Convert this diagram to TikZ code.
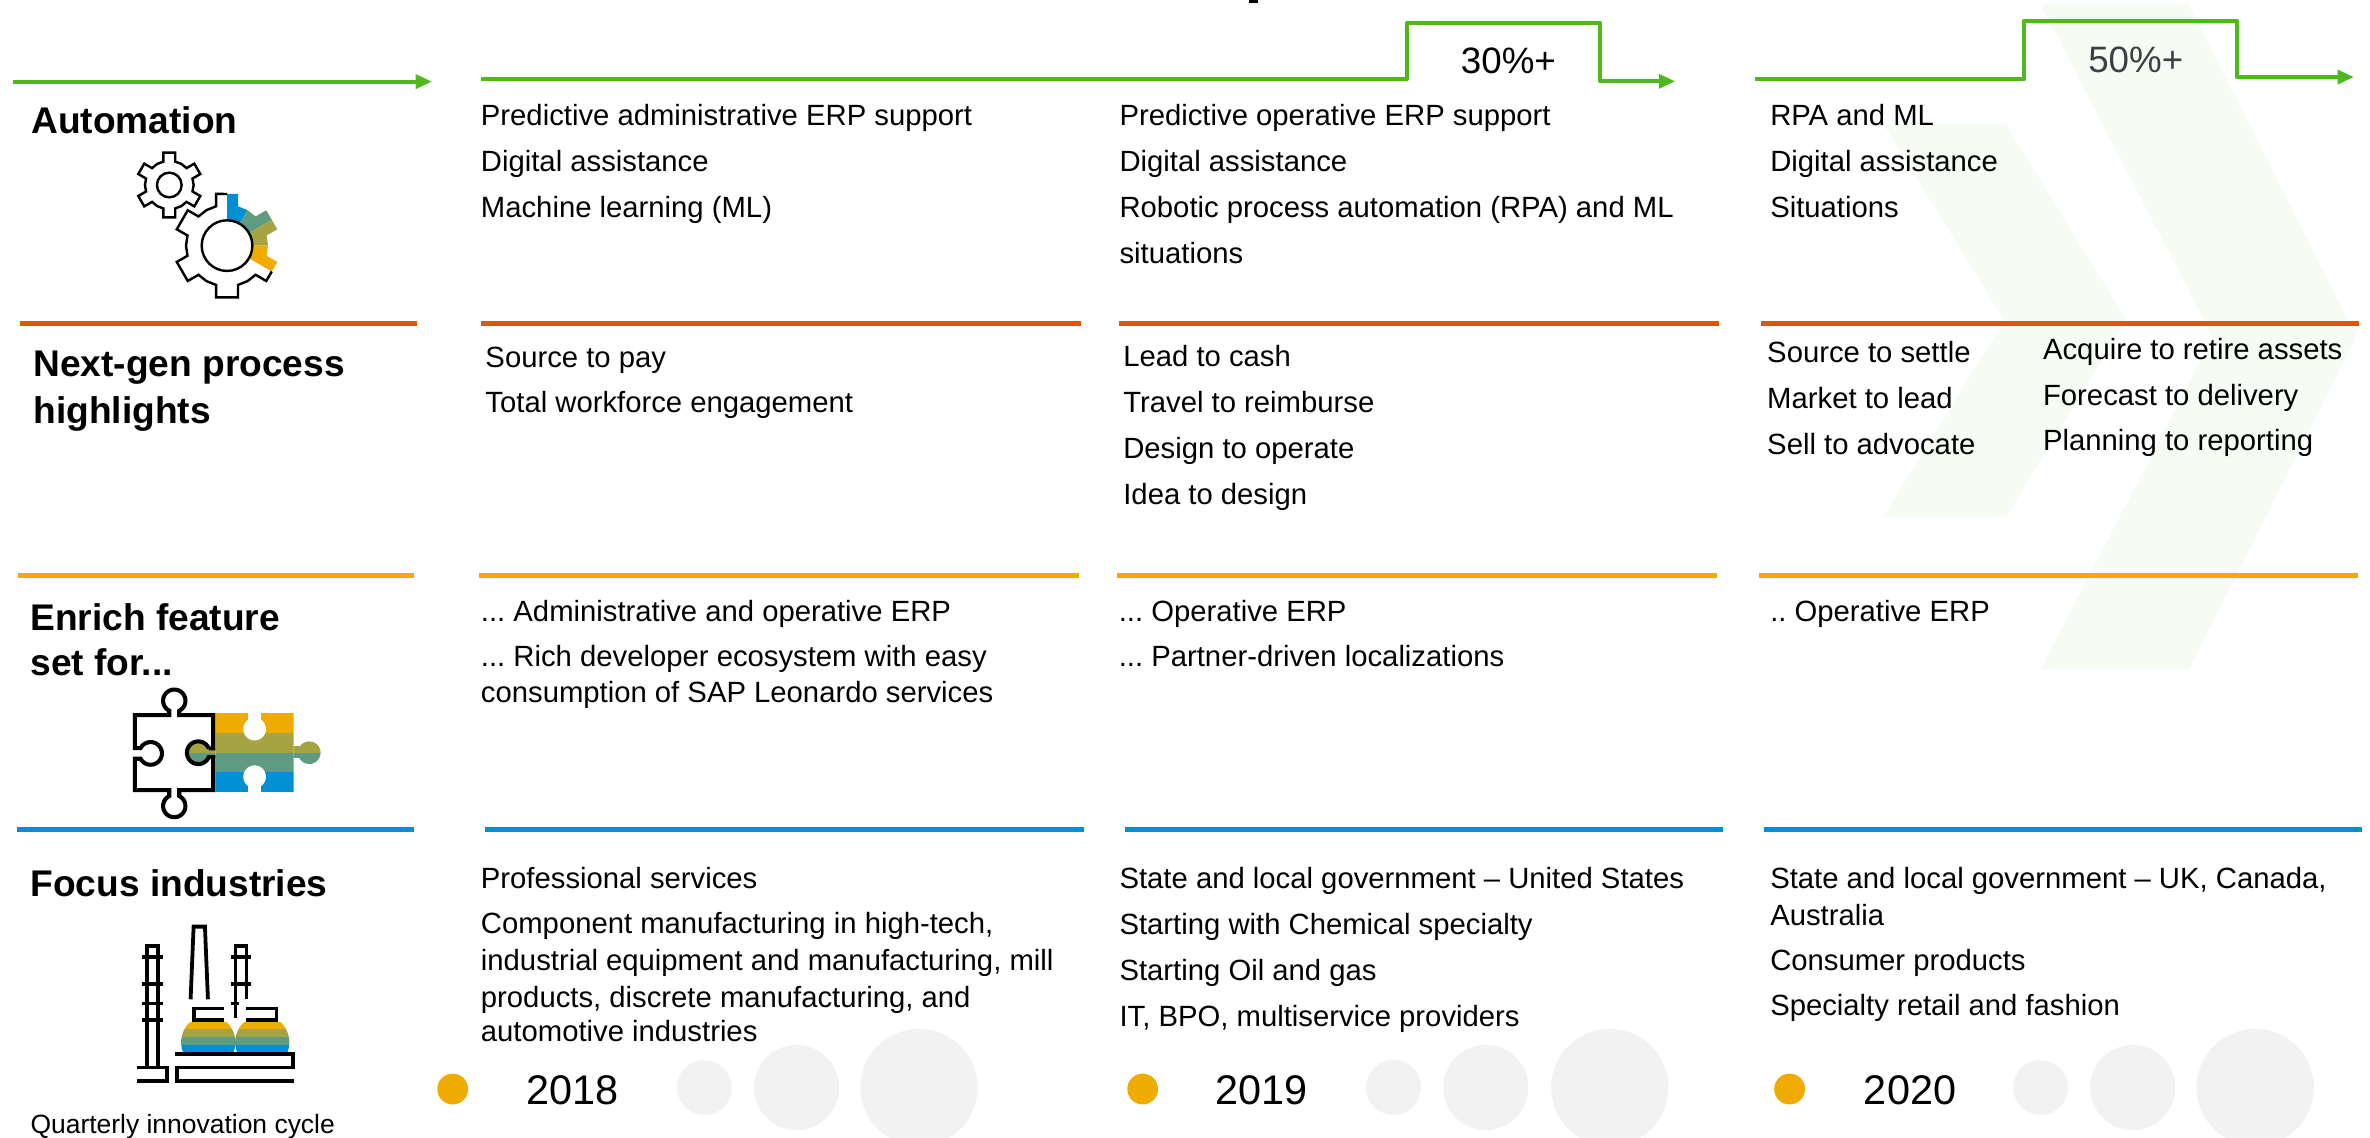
\documentclass[tikz,border=0pt]{standalone}
\usepackage{fontspec}
\setmainfont{Liberation Sans}
\definecolor{gOrange}{HTML}{E35500}
\definecolor{gYellow}{HTML}{F0AB00}
\definecolor{gBlue}{HTML}{008FD3}
\definecolor{gGreen}{HTML}{4FB81C}
\definecolor{gOlive}{HTML}{A6A343}
\definecolor{gTeal}{HTML}{5F9B80}
\definecolor{gGray}{HTML}{F2F2F2}
\definecolor{gChev}{HTML}{F6FBF4}
\definecolor{gDark}{HTML}{3C4043}
\tikzset{
  bodytext/.style={anchor=base west,inner sep=0pt,font=\fontsize{19.36}{23}\selectfont\frenchspacing,align=left},
  headtext/.style={anchor=base west,inner sep=0pt,font=\fontsize{24.55}{30}\selectfont\bfseries},
  pctext/.style={anchor=center,inner sep=0pt,font=\fontsize{24.3}{30}\selectfont},
  yeartext/.style={anchor=base west,inner sep=0pt,font=\fontsize{27.4}{30}\selectfont},
  rule/.style={line width=3.4pt},
  flow/.style={draw=gGreen,line width=2.6pt,line join=round},
  head/.style={fill=gGreen,draw=none},
  iconline/.style={line width=2.5pt,line join=miter},
  gearline/.style={line width=1.6pt,line join=miter},
  chev/.style={fill=gChev,draw=none},
  dot/.style={circle,fill=gGray,draw=none,inner sep=0pt},
  ydot/.style={circle,fill=gYellow,draw=none,inner sep=0pt,minimum size=20.4pt}
}
\newcommand{\puzbands}{%
  \fill[gYellow] (400,150) rectangle (740,220);
  \fill[gOlive] (300,220) rectangle (740,278);
  \fill[gTeal] (300,278) rectangle (740,337);
  \fill[gBlue] (400,337) rectangle (740,400);
}
\newcommand{\tankbands}{%
  \fill[gYellow] (290,365) rectangle (640,388);
  \fill[gOlive] (290,388) rectangle (640,411);
  \fill[gTeal] (290,411) rectangle (640,435);
  \fill[gBlue] (290,435) rectangle (640,458);
}
\begin{document}
\begin{tikzpicture}[x=1pt,y=-1pt]
\useasboundingbox (0,0) rectangle (1568,752.9);
\clip (0,0) rectangle (1568,752.9);
% clipped mark at the top edge
\fill[black] (826.4,0) rectangle (832.4,1.8);
% chevrons
\fill[chev] (1350,3) -- (1448,3) -- (1559,223) -- (1448,443) -- (1350,443) -- (1464,223) -- cycle;
\fill[chev] (1246,82) -- (1327,82) -- (1407,212) -- (1327,342) -- (1246,342) -- (1326,212) -- cycle;
% green flows
\coordinate (a1s) at (8.5,54);
\coordinate (a1e) at (278,54);
\coordinate (a1t) at (285.5,54);
\draw[flow] (a1s) -- (a1e);
\fill[head] (275,49) -- (a1t) -- (275,59) -- cycle;
\coordinate (a2s) at (318,52.5);
\coordinate (a2e) at (1101,53.8);
\coordinate (a2t) at (1108,53.8);
\draw[flow] (a2s) -- (930.6,52.5) -- (930.6,15.4) -- (1058.7,15.4) -- (1058.7,53.8) -- (a2e);
\fill[head] (1097.5,48.8) -- (a2t) -- (1097.5,58.8) -- cycle;
\coordinate (a3s) at (1161,52.5);
\coordinate (a3e) at (1550,51);
\coordinate (a3t) at (1557,51);
\draw[flow] (a3s) -- (1339,52.5) -- (1339,14) -- (1480,14) -- (1480,51) -- (a3e);
\fill[head] (1546.5,46) -- (a3t) -- (1546.5,56) -- cycle;
\node[pctext] (p30) at (998,40) {30\%+};
\node[pctext,text=gDark] (p50) at (1413,39.5) {50\%+};
% rules
\foreach \xa/\xb/\xc/\xd/\xe/\xf/\xg/\xh/\yy/\cc in {
  13/276/318/715/740/1137/1165/1561/213.8/gOrange,
  12/274/317/714/739/1136/1164/1560/381/gYellow,
  11/274/321/717/744/1140/1167/1563/549/gBlue}{
  \draw[rule,\cc] (\xa,\yy) -- (\xb,\yy);
  \draw[rule,\cc] (\xc,\yy) -- (\xd,\yy);
  \draw[rule,\cc] (\xe,\yy) -- (\xf,\yy);
  \draw[rule,\cc] (\xg,\yy) -- (\xh,\yy);
}
% headings
\node[headtext] (h1) at (20.5,88) {Automation};
\node[headtext] (h2a) at (22,249) {Next-gen process};
\node[headtext] (h2b) at (22,280) {highlights};
\node[headtext] (h3a) at (20,417) {Enrich feature};
\node[headtext] (h3b) at (20,447) {set for...};
\node[headtext] (h4) at (20,593) {Focus industries};
\node[anchor=base west,inner sep=0pt,font=\fontsize{17.5}{20}\selectfont] (q) at (20,750) {Quarterly innovation cycle};
% row 1
\node[bodytext] (t1) at (318,83) {Predictive administrative ERP support};
\node[bodytext] (t2) at (318,113.3) {Digital assistance};
\node[bodytext] (t3) at (318,144) {Machine learning (ML)};
\node[bodytext] (t4) at (740.5,83) {Predictive operative ERP support};
\node[bodytext] (t5) at (740.5,113.3) {Digital assistance};
\node[bodytext] (t6) at (740.5,144) {Robotic process automation (RPA) and ML};
\node[bodytext] (t7) at (740.5,174) {situations};
\node[bodytext] (t8) at (1171,83) {RPA and ML};
\node[bodytext] (t9) at (1171,113.3) {Digital assistance};
\node[bodytext] (t10) at (1171,144) {Situations};
% row 2
\node[bodytext] (u1) at (321,243) {Source to pay};
\node[bodytext] (u2) at (321,273) {Total workforce engagement};
\node[bodytext] (u3) at (743,242.6) {Lead to cash};
\node[bodytext] (u4) at (743,273) {Travel to reimburse};
\node[bodytext] (u5) at (743,303.6) {Design to operate};
\node[bodytext] (u6) at (743,334) {Idea to design};
\node[bodytext] (u7) at (1169,240) {Source to settle};
\node[bodytext] (u8) at (1169,270) {Market to lead};
\node[bodytext] (u9) at (1169,300.6) {Sell to advocate};
\node[bodytext] (u10) at (1351.5,238) {Acquire to retire assets};
\node[bodytext] (u11) at (1351.5,268) {Forecast to delivery};
\node[bodytext] (u12) at (1351.5,298) {Planning to reporting};
% row 3
\node[bodytext] (v1) at (318,411) {... Administrative and operative ERP};
\node[bodytext] (v2) at (318,441) {... Rich developer ecosystem with easy};
\node[bodytext] (v3) at (318,464.6) {consumption of SAP Leonardo services};
\node[bodytext] (v4) at (740,411) {... Operative ERP};
\node[bodytext] (v5) at (740,441) {... Partner-driven localizations};
\node[bodytext] (v6) at (1171,411) {.. Operative ERP};
% row 4
\node[bodytext] (w1) at (318,588) {Professional services};
\node[bodytext] (w2) at (318,617.6) {Component manufacturing in high-tech,};
\node[bodytext] (w3) at (318,642) {industrial equipment and manufacturing, mill};
\node[bodytext] (w4) at (318,666.5) {products, discrete manufacturing, and};
\node[bodytext] (w5) at (318,689) {automotive industries};
\node[bodytext] (w6) at (740.5,588) {State and local government – United States};
\node[bodytext] (w7) at (740.5,618) {Starting with Chemical specialty};
\node[bodytext] (w8) at (740.5,649) {Starting Oil and gas};
\node[bodytext] (w9) at (740.5,679) {IT, BPO, multiservice providers};
\node[bodytext] (w10) at (1171,588) {State and local government – UK, Canada,};
\node[bodytext] (w11) at (1171,612) {Australia};
\node[bodytext] (w12) at (1171,642) {Consumer products};
\node[bodytext] (w13) at (1171,672) {Specialty retail and fashion};
% timeline
\foreach \yd/\ty/\name/\ya/\yb/\yc/\yr in {299.5/348/a/466/527/608/2018,756/804/b/922/983/1065/2019,1184/1233/c/1350/1411/1492/2020}{
  \node[ydot] (yd\name) at (\yd,720.5) {};
  \node[yeartext] (yt\name) at (\ty,731) {\yr};
  \fill[gGray] (\ya,719.5) circle[radius=18.2pt];
  \fill[gGray] (\yb,719.5) circle[radius=28.2pt];
  \fill[gGray] (\yc,719.5) circle[radius=38.8pt];
}
% gears
\begin{scope}[shift={(150.2,162.5)},x=0.2205pt,y=0.2205pt]
  \begin{scope}
    \clip (120:123) \foreach \a in {90,30,-30,-90,-150,-210}{ -- ({\a+15.6}:122.5) -- ({\a+12}:158.5) -- ({\a-12}:158.5) -- ({\a-15.6}:122.5) -- ({\a-30}:123)} -- cycle;
    \fill[gBlue] (0,0) -- (90:260) -- (60:260) -- cycle;
    \fill[gTeal] (0,0) -- (60:260) -- (30:260) -- cycle;
    \fill[gOlive] (0,0) -- (30:260) -- (0:260) -- cycle;
    \fill[gYellow] (0,0) -- (0:260) -- (-30:260) -- cycle;
  \end{scope}
  \draw[gearline] (-30:155) -- (-42:158.5) -- (-45.6:122.5)
     \foreach \a in {-90,-150,-210}{ -- ({\a+30}:123) -- ({\a+15.6}:122.5) -- ({\a+12}:158.5) -- ({\a-12}:158.5) -- ({\a-15.6}:122.5)}
     -- (-240:123) -- (-254.4:122.5) -- (-258:158.5) -- (-270:155);
  \draw[gearline,fill=white] (0,0) circle[radius=76];
\end{scope}
\begin{scope}[shift={(112,122.4)},x=0.2205pt,y=0.2205pt]
  \draw[gearline] (120:73)
     \foreach \a in {90,30,-30,-90,-150,-210}{ -- ({\a+14.4}:72.3) -- ({\a+10.5}:98.7) -- ({\a-10.5}:98.7) -- ({\a-14.4}:72.3) -- ({\a-30}:73)} -- cycle;
  \draw[gearline] (0,0) circle[radius=37];
\end{scope}
% puzzle
\begin{scope}[shift={(52.9,436.7)},x=0.2205pt,y=-0.2205pt]
  \begin{scope}\clip (407,160) rectangle (641,395); \puzbands \end{scope}
  \begin{scope}\clip (641,260) rectangle (670,292); \puzbands \end{scope}
  \begin{scope}\clip plot[domain=0:350,samples=37] ({688+34*cos(\x)},{278+34*sin(\x)}) -- cycle; \puzbands \end{scope}
  \begin{scope}\clip (370,265) rectangle (407,292); \puzbands \end{scope}
  \begin{scope}\clip plot[domain=0:350,samples=37] ({355+34*cos(\x)},{278+34*sin(\x)}) -- cycle; \puzbands \end{scope}
  \fill[white] (505,155) rectangle (543,190);
  \fill[white] plot[domain=0:350,samples=37] ({524+34*cos(\x)},{207+34*sin(\x)}) -- cycle;
  \fill[white] (505,365) rectangle (543,400);
  \fill[white] plot[domain=0:350,samples=37] ({524+34*cos(\x)},{350+34*sin(\x)}) -- cycle;
  \draw[iconline,line width=2.7pt] (165,165) -- (268,165) -- (268,152)
    -- plot[domain=116.6:423.4,samples=40] ({283+33.5*cos(\x)},{122+33.5*sin(\x)})
    -- (298,165) -- (400,165) -- (400,265) -- (386,265)
    -- plot[domain=-22.5:-337.5,samples=40] ({355+34*cos(\x)},{278+34*sin(\x)})
    -- (400,291) -- (400,390) -- (298,390) -- (298,408)
    -- plot[domain=-63.4:243.4,samples=40] ({283+33.5*cos(\x)},{438+33.5*sin(\x)})
    -- (268,390) -- (165,390) -- (165,296)
    -- plot[domain=152:-152,samples=40] ({212+34*cos(\x)},{280+34*sin(\x)})
    -- (165,264) -- cycle;
\end{scope}
% factory
\begin{scope}[shift={(52.9,595.4)},x=0.2205pt,y=-0.2205pt]
  \begin{scope}\clip plot[domain=0:350,samples=37] ({385+81.5*cos(\x)},{427+81.5*sin(\x)}) -- cycle; \tankbands \end{scope}
  \begin{scope}\clip plot[domain=0:350,samples=37] ({547+81.5*cos(\x)},{427+81.5*sin(\x)}) -- cycle; \tankbands \end{scope}
  \draw[iconline] (200,500) -- (200,137) -- (235,137) -- (235,500);
  \foreach \yy in {172,252,311,361}{ \draw[iconline] (186,\yy) -- (248,\yy); }
  \draw[iconline] (170,503) -- (260,503) -- (260,544) -- (170,544);
  \draw[iconline] (332,298) -- (341,80) -- (375,80) -- (384,298);
  \draw[iconline] (467,353) -- (467,137) -- (500,137) -- (500,298);
  \draw[iconline] (452,172) -- (512,172);
  \draw[iconline] (452,252) -- (512,252);
  \draw[iconline] (452,311) -- (478,311);
  \draw[iconline] (432,326) -- (343,326) -- (343,360) -- (432,360);
  \draw[iconline] (498,326) -- (590,326) -- (590,360) -- (498,360);
  \draw[iconline] (286,463) -- (640,463) -- (640,503) -- (292,503) -- (292,544) -- (642,544);
\end{scope}
\end{tikzpicture}
\end{document}
